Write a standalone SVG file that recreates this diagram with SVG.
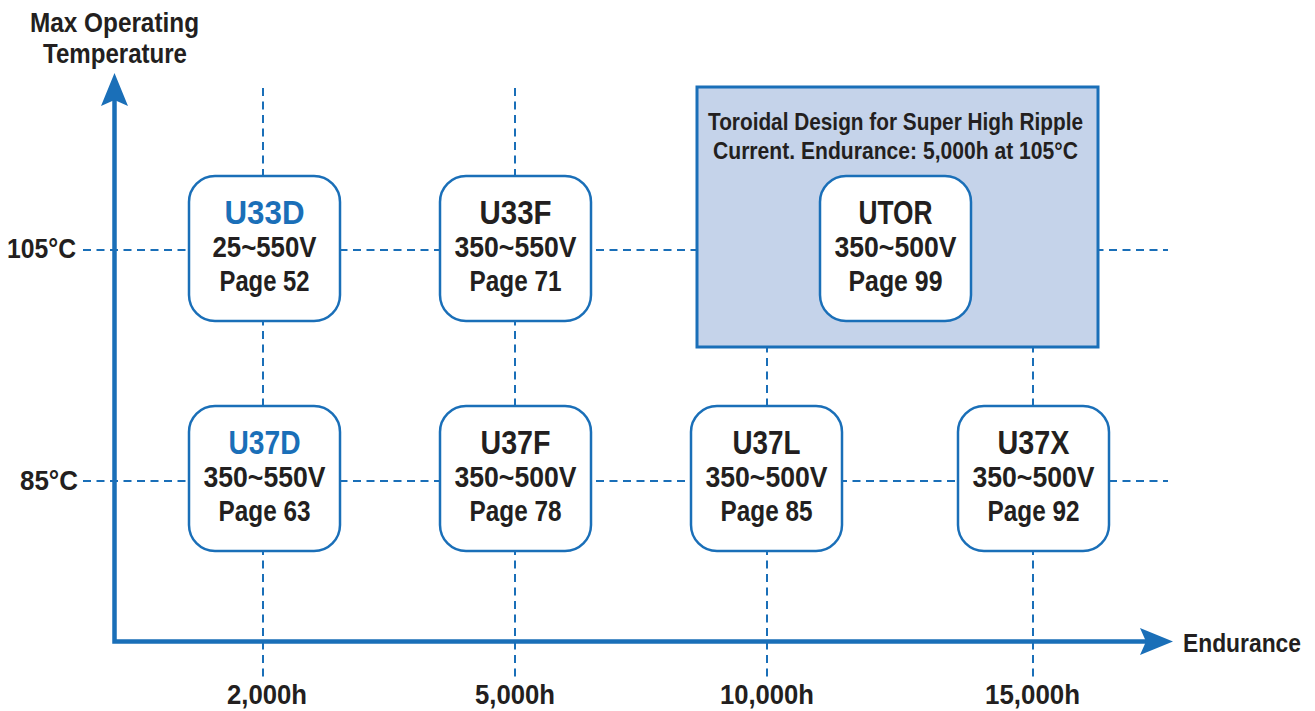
<svg xmlns="http://www.w3.org/2000/svg" width="1315" height="711" viewBox="0 0 1315 711">
<style>
text{font-family:"Liberation Sans",Arial,sans-serif;font-weight:bold;fill:#231f20;text-anchor:middle}
.dash{stroke:#1a6fb8;stroke-width:2;stroke-dasharray:8,5.5;fill:none}
.node{fill:#fff;stroke:#1a6fb8;stroke-width:2.5}
.t{font-size:33px}
.s{font-size:29px}
.blue{fill:#1a6fb8}
.lab{font-size:27px}
</style>
<rect width="1315" height="711" fill="#fff"/>
<g id="grid">
<line class="dash" x1="263" y1="88" x2="263" y2="682"/>
<line class="dash" x1="515" y1="88" x2="515" y2="682"/>
<line class="dash" x1="767" y1="88" x2="767" y2="682"/>
<line class="dash" x1="1033" y1="88" x2="1033" y2="682"/>
<line class="dash" x1="83" y1="250" x2="1168" y2="250"/>
<line class="dash" x1="83" y1="481" x2="1168" y2="481"/>
</g>
<g id="toroidal-box">
<rect x="697" y="87" width="401" height="260" fill="#c5d3ea" stroke="#1a6fb8" stroke-width="3"/>
<text x="895.5" y="130" font-size="24" textLength="375" lengthAdjust="spacingAndGlyphs">Toroidal Design for Super High Ripple</text>
<text x="895.5" y="159" font-size="24" textLength="365" lengthAdjust="spacingAndGlyphs">Current. Endurance: 5,000h at 105°C</text>
</g>
<g id="axes" stroke="#1a6fb8" fill="#1a6fb8">
<polyline points="114.5,100 114.5,641.5 1146,641.5" fill="none" stroke-width="4.5"/>
<polygon points="114.5,73 101,106 114.5,100 128,106" stroke="none"/>
<polygon points="1173,641.5 1140,628 1146,641.5 1140,655" stroke="none"/>
</g>
<g id="U33D"><rect class="node" x="189" y="176" width="151" height="145" rx="26"/>
<text class="t blue" x="264.5" y="223.5" textLength="80" lengthAdjust="spacingAndGlyphs">U33D</text><text class="s" x="264.5" y="257" textLength="104" lengthAdjust="spacingAndGlyphs">25~550V</text><text class="s" x="264.5" y="291" textLength="90" lengthAdjust="spacingAndGlyphs">Page 52</text></g>
<g id="U33F"><rect class="node" x="440" y="176" width="151" height="145" rx="26"/>
<text class="t" x="515.5" y="223.5" textLength="72" lengthAdjust="spacingAndGlyphs">U33F</text><text class="s" x="515.5" y="257" textLength="122" lengthAdjust="spacingAndGlyphs">350~550V</text><text class="s" x="515.5" y="291" textLength="92" lengthAdjust="spacingAndGlyphs">Page 71</text></g>
<g id="UTOR"><rect class="node" x="820" y="176" width="151" height="145" rx="26"/>
<text class="t" x="895.5" y="223.5" textLength="74" lengthAdjust="spacingAndGlyphs">UTOR</text><text class="s" x="895.5" y="257" textLength="122" lengthAdjust="spacingAndGlyphs">350~500V</text><text class="s" x="895.5" y="291" textLength="94" lengthAdjust="spacingAndGlyphs">Page 99</text></g>
<g id="U37D"><rect class="node" x="189" y="406" width="151" height="145" rx="26"/>
<text class="t blue" x="264.5" y="453.5" textLength="72" lengthAdjust="spacingAndGlyphs">U37D</text><text class="s" x="264.5" y="487" textLength="122" lengthAdjust="spacingAndGlyphs">350~550V</text><text class="s" x="264.5" y="521" textLength="92" lengthAdjust="spacingAndGlyphs">Page 63</text></g>
<g id="U37F"><rect class="node" x="440" y="406" width="151" height="145" rx="26"/>
<text class="t" x="515.5" y="453.5" textLength="70" lengthAdjust="spacingAndGlyphs">U37F</text><text class="s" x="515.5" y="487" textLength="122" lengthAdjust="spacingAndGlyphs">350~500V</text><text class="s" x="515.5" y="521" textLength="92" lengthAdjust="spacingAndGlyphs">Page 78</text></g>
<g id="U37L"><rect class="node" x="691" y="406" width="151" height="145" rx="26"/>
<text class="t" x="766.5" y="453.5" textLength="68" lengthAdjust="spacingAndGlyphs">U37L</text><text class="s" x="766.5" y="487" textLength="122" lengthAdjust="spacingAndGlyphs">350~500V</text><text class="s" x="766.5" y="521" textLength="92" lengthAdjust="spacingAndGlyphs">Page 85</text></g>
<g id="U37X"><rect class="node" x="958" y="406" width="151" height="145" rx="26"/>
<text class="t" x="1033.5" y="453.5" textLength="72" lengthAdjust="spacingAndGlyphs">U37X</text><text class="s" x="1033.5" y="487" textLength="122" lengthAdjust="spacingAndGlyphs">350~500V</text><text class="s" x="1033.5" y="521" textLength="92" lengthAdjust="spacingAndGlyphs">Page 92</text></g>
<g id="labels">
<text class="lab" x="114.5" y="32" textLength="169" lengthAdjust="spacingAndGlyphs">Max Operating</text>
<text class="lab" x="115" y="63" textLength="144" lengthAdjust="spacingAndGlyphs">Temperature</text>
<text class="lab" x="41.5" y="258" textLength="69" lengthAdjust="spacingAndGlyphs">105°C</text>
<text class="lab" x="49" y="490" textLength="58" lengthAdjust="spacingAndGlyphs">85°C</text>
<text class="lab" x="267" y="704" textLength="80" lengthAdjust="spacingAndGlyphs">2,000h</text>
<text class="lab" x="515" y="704" textLength="80" lengthAdjust="spacingAndGlyphs">5,000h</text>
<text class="lab" x="767" y="704" textLength="94" lengthAdjust="spacingAndGlyphs">10,000h</text>
<text class="lab" x="1032.5" y="704" textLength="95" lengthAdjust="spacingAndGlyphs">15,000h</text>
<text x="1242" y="652" font-size="25" textLength="118" lengthAdjust="spacingAndGlyphs">Endurance</text>
</g>
</svg>
